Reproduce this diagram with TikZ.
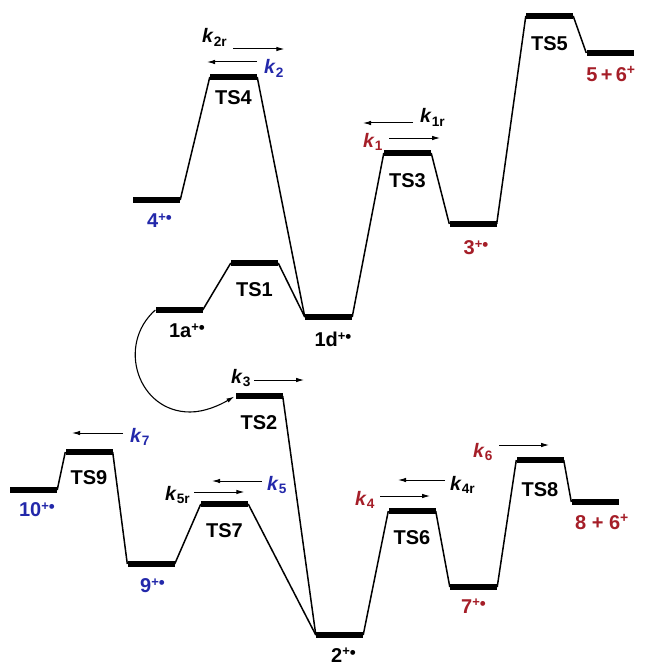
\documentclass[tikz,border=0pt]{standalone}
\usepackage{fontspec}
\setmainfont{Liberation Sans}
\usetikzlibrary{arrows.meta,positioning}

\definecolor{ionblue}{RGB}{35,40,170}
\definecolor{ionred}{RGB}{165,30,40}
\newcommand\krate[1]{\textbf{\textit{k}}\textsubscript{\bfseries #1}}
\newcommand\ionrad[1]{#1\raisebox{6.5pt}{\fontsize{13}{13}\selectfont +}\raisebox{4.2pt}{\fontsize{17}{17}\selectfont •}}

\begin{document}
\begin{tikzpicture}[x=1pt, y=1pt,
    node distance=16pt,
    level/.style={
        fill=black,
        inner sep=0pt,
        minimum width=47pt,
        minimum height=5.5pt
    },
    lab/.style={
        inner sep=0pt,
        text height=14.3pt,
        text depth=0pt,
        font=\fontsize{20}{24}\selectfont\bfseries
    },
    ionlab/.style={lab},
    klab/.style={
        inner sep=0pt,
        anchor=base west,
        font=\fontsize{19.5}{22}\selectfont
    },
    link/.style={line width=1.5pt},
    rate/.style={line width=1pt, ->},
    >={Latex[length=8pt,width=4.5pt]}
]
\useasboundingbox (0,0) rectangle (647,-666);

% energy levels
\node[level] (n4)   at (156.5,-200) {};
\node[level] (ts4)  at (233.5,-77)  {};
\node[level] (n1a)  at (179,-310)   {};
\node[level] (ts1)  at (254.5,-263) {};
\node[level] (n1d)  at (328.5,-317) {};
\node[level] (ts3)  at (407.5,-153) {};
\node[level] (n3)   at (473,-224)   {};
\node[level] (ts5)  at (549.5,-16)  {};
\node[level] (n56)  at (610,-53)    {};
\node[level] (ts2)  at (259,-396)   {};
\node[level] (n2)   at (339.5,-635) {};
\node[level] (ts6)  at (412,-511)   {};
\node[level] (n7)   at (473.5,-587) {};
\node[level] (ts8)  at (540,-460)   {};
\node[level] (n86)  at (595,-502)   {};
\node[level] (ts7)  at (224.5,-504) {};
\node[level] (n9)   at (151,-564)   {};
\node[level] (ts9)  at (89,-452)    {};
\node[level] (n10)  at (33.5,-490)  {};

% profile
\draw[link] (n4.east) -- (ts4.west);
\draw[link] (ts4.east) -- (n1d.west);
\draw[link] (n1a.east) -- (ts1.west);
\draw[link] (ts1.east) -- (n1d.west);
\draw[link] (n1d.east) -- (ts3.west);
\draw[link] (ts3.east) -- (n3.west);
\draw[link] (n3.east) -- (ts5.west);
\draw[link] (ts5.east) -- (n56.west);
\draw[link] (ts2.east) -- (n2.west);
\draw[link] (ts7.east) -- (n2.west);
\draw[link] (n2.east) -- (ts6.west);
\draw[link] (ts6.east) -- (n7.west);
\draw[link] (n7.east) -- (ts8.west);
\draw[link] (ts8.east) -- (n86.west);
\draw[link] (n10.east) -- (ts9.west);
\draw[link] (ts9.east) -- (n9.west);
\draw[link] (n9.east) -- (ts7.west);
\draw[line width=1.1pt, ->, shorten >=1pt] (n1a.west)
    .. controls (116,-345) and (138,-412) .. (190,-412)
    .. controls (205,-412) and (220,-405) .. (ts2.west);

% TS labels
\node[lab, below=10pt of ts4] (ts4l) {TS4};
\node[lab, below=of ts1] (ts1l) {TS1};
\node[lab, below=17pt of ts3] (ts3l) {TS3};
\node[lab, below=17pt of ts5] (ts5l) {TS5};
\node[lab, below=of ts2] (ts2l) {TS2};
\node[lab, below=of ts6] (ts6l) {TS6};
\node[lab, below=19pt of ts8] (ts8l) {TS8};
\node[lab, below=of ts7] (ts7l) {TS7};
\node[lab, below=15pt of ts9] (ts9l) {TS9};

% species
\node[ionlab, text=ionblue, below=10.5pt of n4, xshift=3pt] (n4l) {\ionrad{4}};
\node[ionlab, below=10.5pt of n1a, xshift=8pt] (n1al) {\ionrad{1a}};
\node[ionlab, below=12.5pt of n1d, xshift=4.5pt] (n1dl) {\ionrad{1d}};
\node[ionlab, text=ionred, below=13.5pt of n3, xshift=3pt] (n3l) {\ionrad{3}};
\node[ionlab, text=ionred, below=11.5pt of n56, xshift=1pt] (n56l) {5\,+\,6\textsuperscript{+}};
\node[ionlab, below=10pt of n2, xshift=4pt] (n2l) {\ionrad{2}};
\node[ionlab, text=ionred, below=9pt of n7] (n7l) {\ionrad{7}};
\node[ionlab, text=ionred, below=10.5pt of n86, xshift=7pt] (n86l) {8 + 6\textsuperscript{+}};
\node[ionlab, text=ionblue, below=11.5pt of n9, xshift=1.5pt] (n9l) {\ionrad{9}};
\node[ionlab, text=ionblue, below=9.5pt of n10, xshift=3.5pt] (n10l) {\ionrad{10}};

% rate constants
\node[klab] (k2r) at (202,-43) {\krate{2r}};
\node[klab, text=ionblue] (k2) at (264,-74) {\krate{2}};
\node[klab] (k1r) at (420,-123) {\krate{1r}};
\node[klab, text=ionred] (k1) at (363,-147) {\krate{1}};
\node[klab] (k3) at (231,-383) {\krate{3}};
\node[klab, text=ionblue] (k7) at (130,-442) {\krate{7}};
\node[klab, text=ionblue] (k5) at (267,-490) {\krate{5}};
\node[klab] (k5r) at (165,-500) {\krate{5r}};
\node[klab, text=ionred] (k4) at (355,-505) {\krate{4}};
\node[klab] (k4r) at (450,-490) {\krate{4r}};
\node[klab, text=ionred] (k6) at (473,-457) {\krate{6}};

\draw[rate] ([shift={(6,-6)}]k2r.base east) -- ++(51,0);
\draw[rate] ([shift={(-7,12)}]k2.base west) -- ++(-50,0);
\draw[rate] ([shift={(-7,0)}]k1r.base west) -- ++(-50,0);
\draw[rate] ([shift={(6,9)}]k1.base east) -- ++(51,0);
\draw[rate] ([shift={(3,3)}]k3.base east) -- ++(50,0);
\draw[rate] ([shift={(-7,9)}]k7.base west) -- ++(-51,0);
\draw[rate] ([shift={(-5,9)}]k5.base west) -- ++(-50,0);
\draw[rate] ([shift={(4,8)}]k5r.base east) -- ++(50,0);
\draw[rate] ([shift={(5,9)}]k4.base east) -- ++(50,0);
\draw[rate] ([shift={(-5,10)}]k4r.base west) -- ++(-47,0);
\draw[rate] ([shift={(6,12)}]k6.base east) -- ++(50,0);
\end{tikzpicture}
\end{document}
